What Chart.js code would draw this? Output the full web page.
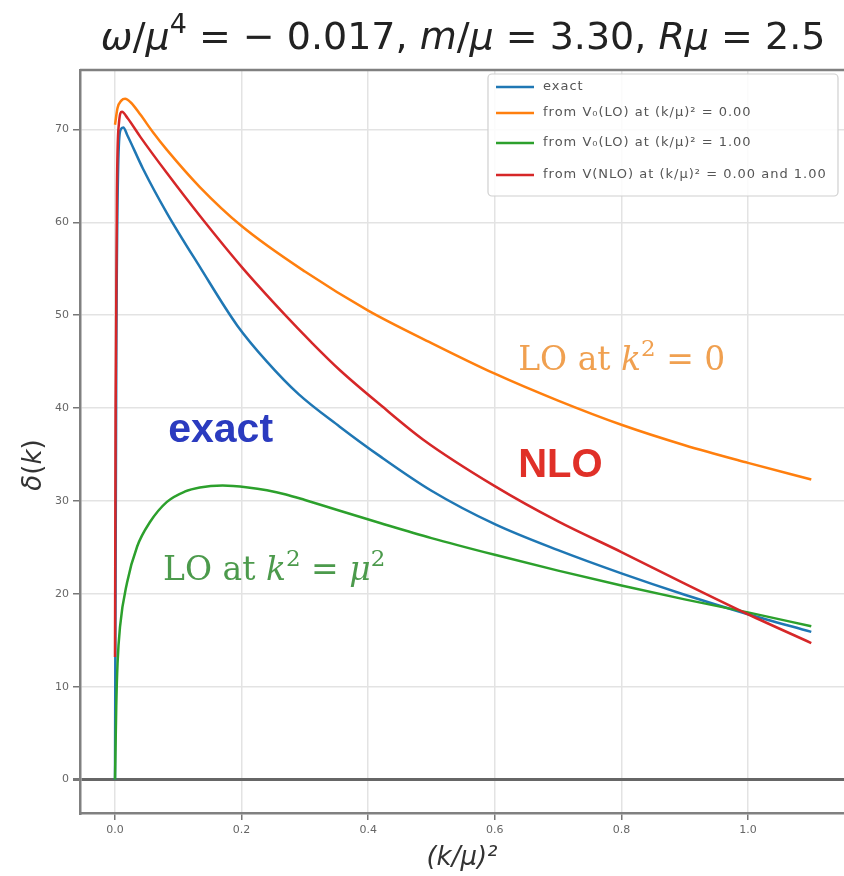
<!DOCTYPE html>
<html><head><meta charset="utf-8">
<script src="https://cdn.jsdelivr.net/npm/chart.js@4/dist/chart.umd.min.js"></script>
<style>html,body{margin:0;padding:0;background:#fff}#wrap{width:844px;height:876px}</style>
</head><body><div id="wrap"><canvas id="c" width="844" height="876"></canvas></div>
<script>
// ---- data ----
const xTicks = [0.0, 0.2, 0.4, 0.6, 0.8, 1.0];
const yTicks = [0, 10, 20, 30, 40, 50, 60, 70];

const exactX = [0, 0.002, 0.005, 0.009, 0.013, 0.02, 0.044, 0.082, 0.134, 0.193, 0.24, 0.29, 0.355, 0.419, 0.5, 0.6, 0.7, 0.8, 0.9, 1.0, 1.1];
const exactY = [0, 45, 66, 70, 70.2, 69.3, 65.8, 61.0, 55.2, 48.9, 45.0, 41.5, 38.0, 34.8, 31.1, 27.5, 24.7, 22.2, 19.9, 17.8, 15.9];

const loZeroX = [0, 0.004, 0.01, 0.016, 0.025, 0.04, 0.06, 0.082, 0.134, 0.2, 0.3, 0.4, 0.5, 0.6, 0.7, 0.8, 0.9, 1.0, 1.1];
const loZeroY = [70.5, 72.3, 73.1, 73.3, 72.9, 71.6, 69.7, 67.8, 63.8, 59.6, 54.7, 50.5, 47.0, 43.7, 40.8, 38.2, 36.0, 34.1, 32.3];

const loOneX = [0, 0.002, 0.004, 0.008, 0.019, 0.035, 0.055, 0.082, 0.11, 0.134, 0.17, 0.21, 0.24, 0.27, 0.3, 0.35, 0.42, 0.5, 0.6, 0.7, 0.8, 0.9, 1.0, 1.1];
const loOneY = [0, 8, 12.5, 16.5, 21.2, 25.1, 27.7, 29.9, 31.0, 31.45, 31.65, 31.45, 31.15, 30.7, 30.1, 29.05, 27.6, 26.0, 24.2, 22.5, 20.9, 19.4, 18.0, 16.5];

const nloX = [0, 0.001, 0.003, 0.006, 0.011, 0.02, 0.04, 0.082, 0.134, 0.2, 0.269, 0.31, 0.355, 0.42, 0.487, 0.6, 0.7, 0.8, 0.9, 1.0, 1.1];
const nloY = [13.2, 40, 63, 70.5, 71.9, 71.2, 69.2, 65.3, 60.7, 55.2, 50.0, 47.1, 44.1, 40.3, 36.6, 31.6, 27.8, 24.5, 21.1, 17.8, 14.7];

const seriesLabels = ['exact', 'from V\u2080(LO) at (k/\u03bc)\u00b2 = 0.00', 'from V\u2080(LO) at (k/\u03bc)\u00b2 = 1.00', 'from V(NLO) at (k/\u03bc)\u00b2 = 0.00 and 1.00'];

// ---- helpers ----
const pts = (xs, ys) => xs.map((x, i) => ({x: x, y: ys[i]}));

function drawRuns(ctx, x, y, runs, size, family, color, align) {
  const fontFor = r => (r.i ? 'italic ' : '') + (r.b ? 'bold ' : '') + Math.round(r.s ? size * 0.7 : size) + 'px ' + family;
  let total = 0;
  runs.forEach(r => { ctx.font = fontFor(r); r.w = ctx.measureText(r.t).width; total += r.w; });
  let cx = align === 'center' ? x - total / 2 : x;
  ctx.fillStyle = color;
  ctx.textBaseline = 'alphabetic';
  ctx.textAlign = 'left';
  runs.forEach(r => {
    ctx.font = fontFor(r);
    ctx.fillText(r.t, cx, r.s ? y - size * 0.42 : y);
    cx += r.w;
  });
}

const decor = {
  id: 'decor',
  afterDatasetsDraw(chart) {
    const ctx = chart.ctx, ca = chart.chartArea, xs = chart.scales.x, ys = chart.scales.y;
    ctx.save();
    // top spine
    ctx.strokeStyle = '#808080'; ctx.lineWidth = 2.5;
    ctx.beginPath(); ctx.moveTo(ca.left, ca.top); ctx.lineTo(ca.right, ca.top); ctx.stroke();

    // annotations (data coordinates)
    const px = v => xs.getPixelForValue(v), py = v => ys.getPixelForValue(v);
    drawRuns(ctx, px(0.084), py(36.4), [{t: 'exact', b: 1}], 41, '"Liberation Sans", Arial, sans-serif', '#2b3bbf');
    drawRuns(ctx, px(0.637), py(32.6), [{t: 'NLO', b: 1}], 40, '"Liberation Sans", Arial, sans-serif', '#e03028');
    drawRuns(ctx, px(0.637), py(44.1), [{t: 'LO at '}, {t: 'k', i: 1}, {t: '2', s: 1}, {t: ' = 0'}], 33, '"DejaVu Serif", serif', '#f0a050');
    drawRuns(ctx, px(0.076), py(21.5), [{t: 'LO at '}, {t: 'k', i: 1}, {t: '2', s: 1}, {t: ' = '}, {t: '\u03bc', i: 1}, {t: '2', s: 1}], 33, '"DejaVu Serif", serif', '#4c9a4c');

    // title
    drawRuns(ctx, px(0.55), 49, [
      {t: '\u03c9', i: 1}, {t: '/'}, {t: '\u03bc', i: 1}, {t: '4', s: 1}, {t: ' = \u2212 0.017, '},
      {t: 'm', i: 1}, {t: '/'}, {t: '\u03bc', i: 1}, {t: ' = 3.30, '},
      {t: 'R', i: 1}, {t: '\u03bc', i: 1}, {t: ' = 2.5'}
    ], 38, '"DejaVu Sans", sans-serif', '#222', 'center');

    // y axis label
    ctx.save();
    ctx.translate(32, 465);
    ctx.rotate(-Math.PI / 2);
    drawRuns(ctx, 0, 9, [{t: '\u03b4', i: 1}, {t: '('}, {t: 'k', i: 1}, {t: ')'}], 26, '"DejaVu Sans", sans-serif', '#333', 'center');
    ctx.restore();

    // legend
    const bx = 488, by = 74, bw = 350, bh = 122;
    ctx.fillStyle = 'rgba(255,255,255,0.85)';
    ctx.strokeStyle = '#d0d0d0'; ctx.lineWidth = 1.2;
    ctx.beginPath(); ctx.roundRect(bx, by, bw, bh, 4); ctx.fill(); ctx.stroke();
    const rowY = [87, 113, 143, 175];
    chart.data.datasets.forEach((ds, i) => {
      ctx.strokeStyle = ds.borderColor; ctx.lineWidth = 2.5;
      ctx.beginPath(); ctx.moveTo(496, rowY[i]); ctx.lineTo(534, rowY[i]); ctx.stroke();
      ctx.fillStyle = '#555';
      ctx.font = '13px "DejaVu Sans", sans-serif';
      ctx.letterSpacing = '1px';
      ctx.textBaseline = 'middle'; ctx.textAlign = 'left';
      ctx.fillText(ds.label, 543, rowY[i]);
      ctx.letterSpacing = '0px';
    });
    ctx.restore();
  }
};

const common = {pointRadius: 0, borderWidth: 2.5, fill: false, cubicInterpolationMode: 'monotone'};

new Chart(document.getElementById('c'), {
  type: 'line',
  data: {
    datasets: [
      Object.assign({label: seriesLabels[0], data: pts(exactX, exactY), borderColor: '#1f77b4', order: 3}, common),
      Object.assign({label: seriesLabels[1], data: pts(loZeroX, loZeroY), borderColor: '#ff7f0e', order: 2}, common),
      Object.assign({label: seriesLabels[2], data: pts(loOneX, loOneY), borderColor: '#2ca02c', order: 1}, common),
      Object.assign({label: seriesLabels[3], data: pts(nloX, nloY), borderColor: '#d62728', order: 0}, common)
    ]
  },
  options: {
    responsive: false,
    animation: false,
    devicePixelRatio: 1,
    layout: {padding: {top: 70, left: 0, right: 0, bottom: 0}},
    plugins: {legend: {display: false}, title: {display: false}, tooltip: {enabled: false}},
    scales: {
      x: {
        type: 'linear', min: -0.0553, max: 1.1517,
        afterBuildTicks: s => { s.ticks = xTicks.map(v => ({value: v})); },
        afterFit: s => { s.height = 63; },
        ticks: {callback: v => v.toFixed(1), font: {family: 'DejaVu Sans', size: 11}, color: '#666', padding: 4, maxRotation: 0, autoSkip: false},
        grid: {color: '#e3e3e3', lineWidth: 1.5, tickColor: '#777', tickLength: 7},
        border: {color: '#808080', width: 2.5},
        title: {display: true, text: '(k/\u03bc)\u00b2', font: {family: 'DejaVu Sans', size: 26, style: 'italic'}, color: '#333', padding: {top: 0, bottom: 2}}
      },
      y: {
        type: 'linear', min: -3.6, max: 76.4,
        afterBuildTicks: s => { s.ticks = yTicks.map(v => ({value: v})); },
        afterFit: s => { s.width = 80; },
        ticks: {font: {family: 'DejaVu Sans', size: 11}, color: '#666', padding: 4},
        grid: {
          color: c => (c.tick && c.tick.value === 0) ? '#666' : '#e3e3e3',
          lineWidth: c => (c.tick && c.tick.value === 0) ? 3 : 1.5,
          tickColor: '#777', tickLength: 7
        },
        border: {color: '#808080', width: 2.5},
        title: {display: false}
      }
    }
  },
  plugins: [decor]
});
</script>
</body></html>
